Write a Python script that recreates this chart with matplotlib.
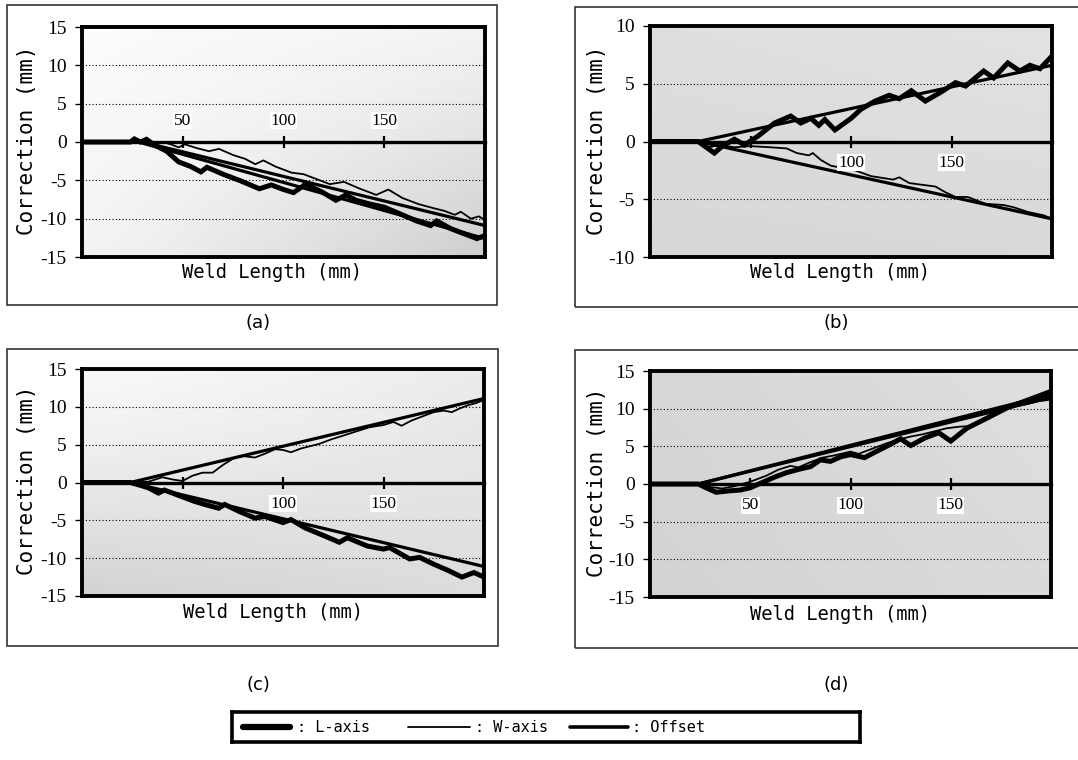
import numpy as np
import matplotlib
matplotlib.use("Agg")
import matplotlib.pyplot as plt
from matplotlib.patches import Rectangle
from matplotlib.lines import Line2D

# ---------------- data ----------------
# Panel (a)
a_L_x = [0, 24, 26, 29, 32, 36, 42, 48, 54, 59, 62, 70, 79, 88, 94, 100, 105, 111, 119, 126, 131, 136, 143, 150, 159, 166, 173, 176, 183, 190, 196, 200]
a_L_y = [0, 0, 0.4, 0, 0.35, -0.4, -1.2, -2.6, -3.2, -3.9, -3.3, -4.2, -5.1, -6.1, -5.6, -6.2, -6.6, -5.5, -6.5, -7.6, -6.9, -7.6, -8.1, -8.5, -9.5, -10.3, -10.9, -10.3, -11.3, -12.0, -12.6, -12.2]
a_W_x = [0, 40, 44, 48, 51, 57, 63, 68, 75, 81, 86, 90, 96, 104, 110, 116, 123, 130, 138, 146, 152, 159, 167, 174, 180, 185, 188, 193, 197, 200]
a_W_y = [0, 0, -0.3, -0.7, -0.3, -0.8, -1.2, -0.9, -1.7, -2.2, -2.9, -2.4, -3.2, -4.0, -4.2, -4.8, -5.5, -5.2, -6.1, -6.9, -6.2, -7.3, -8.1, -8.6, -9.0, -9.5, -9.1, -10.0, -9.7, -10.2]
a_off_x = [[0, 28, 200], [0, 30, 200]]
a_off_y = [[0, 0, -12.6], [0, 0, -10.9]]

# Panel (b)
b_L_x = [0, 24, 32, 36, 42, 47, 54, 62, 70, 75, 80, 84, 87, 92, 100, 105, 112, 119, 124, 130, 137, 145, 152, 157, 166, 171, 178, 184, 189, 194, 200]
b_L_y = [0, 0, -1.0, -0.4, 0.2, -0.3, 0.5, 1.6, 2.2, 1.6, 2.0, 1.4, 1.9, 1.0, 2.0, 2.8, 3.5, 4.0, 3.7, 4.4, 3.5, 4.3, 5.1, 4.8, 6.1, 5.5, 6.8, 6.1, 6.6, 6.3, 7.4]
b_W_x = [0, 24, 29, 35, 42, 50, 60, 68, 73, 79, 81, 85, 90, 102, 110, 121, 124, 129, 142, 147, 152, 158, 167, 176, 181, 188, 196, 200]
b_W_y = [0, 0, -0.5, -0.3, -0.5, -0.4, -0.5, -0.6, -1.0, -1.2, -1.0, -1.6, -2.1, -2.5, -3.0, -3.3, -3.1, -3.6, -3.9, -4.4, -4.8, -4.8, -5.4, -5.5, -5.7, -6.1, -6.4, -6.7]
b_off_x = [[0, 24, 200], [0, 24, 200]]
b_off_y = [[0, 0, 6.6], [0, 0, -6.7]]

# Panel (c)
c_L_x = [0, 24, 28, 33, 38, 41, 46, 51, 56, 61, 68, 71, 78, 86, 91, 100, 104, 111, 121, 128, 132, 142, 150, 153, 163, 168, 175, 182, 189, 195, 200]
c_L_y = [0, 0, -0.3, -0.7, -1.4, -1.0, -1.5, -2.0, -2.5, -2.9, -3.4, -2.9, -3.8, -4.7, -4.5, -5.3, -4.9, -6.0, -7.1, -7.9, -7.3, -8.4, -8.8, -8.6, -10.1, -9.9, -10.8, -11.6, -12.5, -11.9, -12.5]
c_W_x = [0, 24, 33, 40, 45, 50, 55, 60, 65, 70, 76, 80, 86, 91, 96, 100, 104, 109, 118, 124, 130, 137, 143, 150, 155, 159, 164, 170, 175, 180, 184, 188, 192, 196, 200]
c_W_y = [0, 0, 0.1, 0.7, 0.4, 0.2, 0.9, 1.3, 1.3, 2.3, 3.3, 3.5, 3.3, 3.8, 4.4, 4.3, 4.0, 4.5, 5.1, 5.7, 6.2, 6.8, 7.3, 7.6, 8.0, 7.5, 8.2, 8.8, 9.3, 9.5, 9.3, 9.8, 10.2, 10.5, 10.9]
c_off_x = [[0, 24, 200], [0, 24, 200]]
c_off_y = [[0, 0, -11.1], [0, 0, 11.1]]

# Panel (d)
d_L_x = [0, 24, 28, 33, 40, 45, 50, 56, 62, 68, 75, 80, 85, 90, 95, 100, 107, 112, 118, 125, 130, 137, 144, 150, 158, 167, 178, 190, 200]
d_L_y = [0, 0, -0.5, -1.1, -0.9, -0.8, -0.5, 0.2, 0.9, 1.5, 2.0, 2.3, 3.2, 3.0, 3.6, 3.9, 3.5, 4.2, 5.0, 6.0, 5.1, 6.1, 6.8, 5.7, 7.4, 8.6, 10.1, 11.3, 12.3]
d_W_x = [0, 24, 30, 36, 42, 50, 58, 64, 70, 74, 80, 86, 92, 100, 104, 110, 118, 124, 130, 136, 142, 148, 154, 160, 166, 172, 180, 188, 194, 200]
d_W_y = [0, 0, -0.4, -0.6, -0.3, 0.3, 1.1, 1.9, 2.4, 2.2, 2.9, 3.5, 3.8, 4.3, 4.0, 4.6, 5.4, 5.9, 6.3, 6.6, 7.0, 7.4, 7.6, 7.7, 8.6, 9.3, 10.2, 10.6, 11.0, 11.2]
d_off_x = [[0, 24, 200], [0, 24, 200]]
d_off_y = [[0, 0, 11.9], [0, 0, 11.5]]

panel_names = ["(a)", "(b)", "(c)", "(d)"]
y_limits = [(-15, 15), (-10, 10), (-15, 15), (-15, 15)]
y_ticks = [[-15, -10, -5, 0, 5, 10, 15], [-10, -5, 0, 5, 10],
           [-15, -10, -5, 0, 5, 10, 15], [-15, -10, -5, 0, 5, 10, 15]]
x_ticks = [50, 100, 150, 200]
x_tick_labels = [["50", "100", "150", ""], ["", "100", "150", ""],
                 ["", "100", "150", ""], ["50", "100", "150", ""]]
x_label_above = [True, False, False, False]
legend_labels = [": L-axis", ": W-axis", ": Offset"]
x_label_text = "Weld Length (mm)"
y_label_text = "Correction (mm)"

L_series = [(a_L_x, a_L_y), (b_L_x, b_L_y), (c_L_x, c_L_y), (d_L_x, d_L_y)]
W_series = [(a_W_x, a_W_y), (b_W_x, b_W_y), (c_W_x, c_W_y), (d_W_x, d_W_y)]
O_series = [(a_off_x, a_off_y), (b_off_x, b_off_y), (c_off_x, c_off_y), (d_off_x, d_off_y)]

# ---------------- layout (pixels) ----------------
W_PX, H_PX = 1078, 760
fig = plt.figure(figsize=(W_PX / 100, H_PX / 100), dpi=100)
fig.patch.set_facecolor("white")

def fx(px):
    return px / W_PX

def fy(py):
    return 1 - py / H_PX

plot_boxes = [(82, 485, 27, 257), (650, 1052, 26, 257), (82, 484, 369, 596), (650, 1051, 371, 597)]
outer_boxes = [(7, 497, 5, 305), (575, 1090, 7, 307), (7, 498, 349, 646), (575, 1090, 350, 648)]
xlabel_pos = [(272, 272), (840, 272), (273, 612), (840, 614)]
ylabel_pos = [(27, 140), (597, 140), (27, 480), (597, 482)]
panel_label_pos = [(258, 323), (836, 323), (258, 685), (836, 685)]
gradients = [(0.02, 0.10, 0.10, 0.30), (0.22, 0.20, 0.26, 0.25),
             (0.05, 0.15, 0.28, 0.23), (0.26, 0.22, 0.28, 0.24)]

serif = "Liberation Serif"
mono = "DejaVu Sans Mono"

for i in range(4):
    l, r, t, b = plot_boxes[i]
    ax = fig.add_axes([fx(l), fy(b), fx(r) - fx(l), fy(t) - fy(b)])
    # background stipple-like gradient
    tl, tr, bl, br = gradients[i]
    u = np.linspace(0, 1, 64)
    v = np.linspace(0, 1, 64)
    U, V = np.meshgrid(u, v)
    G = (1 - U) * (1 - V) * tl + U * (1 - V) * tr + (1 - U) * V * bl + U * V * br
    ax.imshow(G, extent=(0, 1, 0, 1), transform=ax.transAxes, cmap="Greys",
              vmin=0, vmax=1, aspect="auto", zorder=0, interpolation="bilinear")
    ax.set_xlim(0, 200)
    ax.set_ylim(*y_limits[i])
    ax.set_autoscale_on(False)

    # series
    ox, oy = O_series[i]
    for sx, sy in zip(ox, oy):
        ax.plot(sx, sy, color="black", lw=2.3, solid_capstyle="butt", zorder=3)
    wx, wy = W_series[i]
    ax.plot(wx, wy, color="black", lw=1.3, zorder=3)
    lx, ly = L_series[i]
    ax.plot(lx, ly, color="black", lw=3.6, zorder=4, solid_joinstyle="miter")

    # y axis
    ax.set_yticks(y_ticks[i])
    ax.set_yticklabels([str(v) for v in y_ticks[i]], fontfamily=serif, fontsize=14)
    ax.tick_params(axis="y", direction="out", length=5, width=1, pad=6)
    ax.set_xticks([])
    ax.yaxis.grid(True, linestyle=(0, (1, 2)), color="black", lw=0.8)
    ax.set_axisbelow(False)
    for s in ax.spines.values():
        s.set_linewidth(2.8)
        s.set_color("black")

    # x axis drawn along y = 0
    sec = ax.secondary_xaxis(0, transform=ax.transData)
    sec.set_xticks(x_ticks)
    sec.set_xticklabels(x_tick_labels[i], fontfamily=serif, fontsize=12.5)
    if x_label_above[i]:
        sec.set_alignment("top")
    sec.tick_params(axis="x", direction="inout", length=9, width=1.6, pad=5)
    for s in sec.spines.values():
        s.set_linewidth(2.4)
    sec.set_zorder(5)
    for tl_ in sec.get_xticklabels():
        tl_.set_bbox(dict(facecolor="white", edgecolor="none", pad=0.5))

    # labels
    xp, yp = xlabel_pos[i]
    fig.text(fx(xp), fy(yp), x_label_text, fontfamily=mono, fontsize=13.5,
             ha="center", va="center")
    xp, yp = ylabel_pos[i]
    fig.text(fx(xp), fy(yp), y_label_text, fontfamily=mono, fontsize=15,
             ha="center", va="center", rotation=90)
    xp, yp = panel_label_pos[i]
    fig.text(fx(xp), fy(yp), panel_names[i], fontfamily="DejaVu Sans", fontsize=13,
             ha="center", va="center")

    # outer frame
    ol, orr, ot, ob = outer_boxes[i]
    fig.add_artist(Rectangle((fx(ol), fy(ob)), fx(orr) - fx(ol), fy(ot) - fy(ob),
                             transform=fig.transFigure, fill=False,
                             edgecolor="#333333", lw=1.2))

# ---------------- legend ----------------
lax = fig.add_axes([fx(232), fy(742), fx(860) - fx(232), fy(712) - fy(742)])
lax.set_xlim(232, 860)
lax.set_ylim(0, 1)
lax.set_xticks([])
lax.set_yticks([])
for s in lax.spines.values():
    s.set_linewidth(2.6)
handle_spans = [(243, 290), (408, 470), (570, 628)]
handle_widths = [4.5, 1.3, 2.6]
text_x = [297, 475, 632]
for (h0, h1), lw_, tx, lab in zip(handle_spans, handle_widths, text_x, legend_labels):
    lax.add_line(Line2D([h0, h1], [0.5, 0.5], color="black", lw=lw_, solid_capstyle="round"))
    lax.text(tx, 0.5, lab, fontfamily=mono, fontsize=11, ha="left", va="center")

fig.savefig("out.png", dpi=100)
